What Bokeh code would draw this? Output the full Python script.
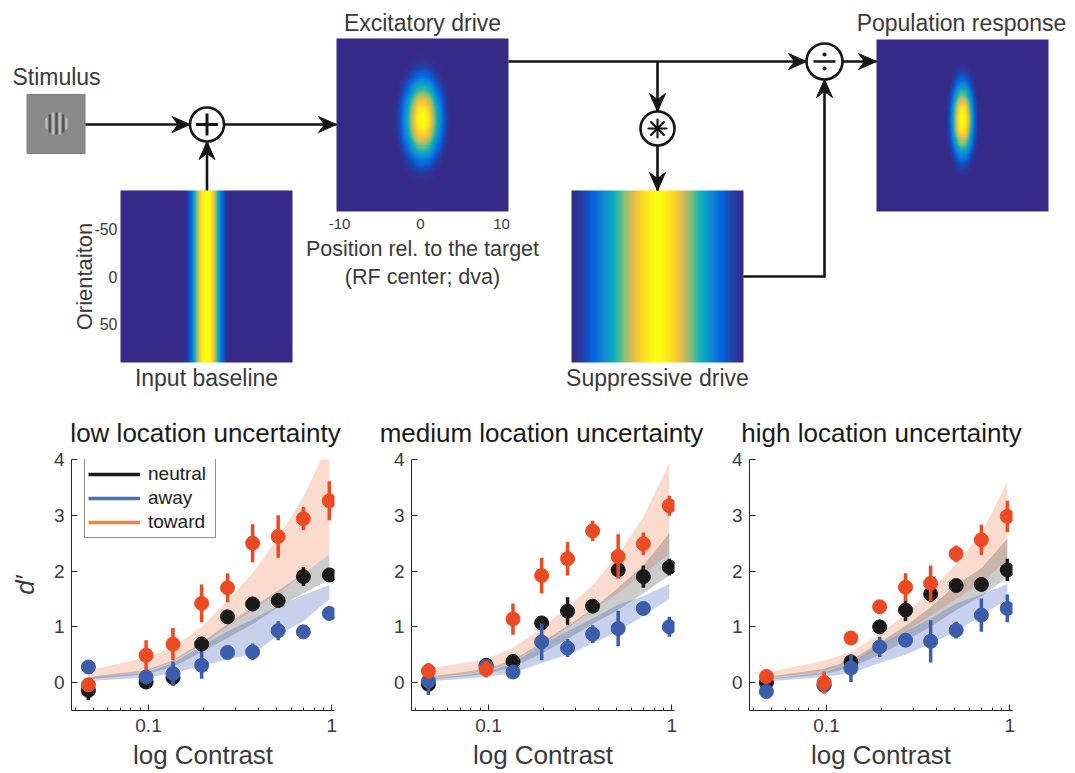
import numpy as np
from bokeh.plotting import figure
from bokeh.layouts import column, row
from bokeh.models import (Range1d, LinearColorMapper, FixedTicker,
                          CustomJSTickFormatter, Legend, LegendItem)
from bokeh.core.properties import value
from bokeh.embed import file_html
from bokeh.resources import INLINE

# ---------------------------------------------------------------- data
contrast = [0.047, 0.097, 0.136, 0.195, 0.27, 0.37, 0.51, 0.70, 0.97]

# low location uncertainty
low_neutral = [-0.14, 0.01, 0.09, 0.69, 1.18, 1.41, 1.47, 1.90, 1.93]
low_neutral_err = [0.17, 0.12, 0.08, 0.13, 0.05, 0.13, 0.13, 0.17, 0.10]
low_away = [0.28, 0.10, 0.16, 0.31, 0.54, 0.55, 0.93, 0.91, 1.24]
low_away_err = [0.03, 0.05, 0.22, 0.24, 0.05, 0.15, 0.17, 0.05, 0.12]
low_toward = [-0.04, 0.49, 0.69, 1.42, 1.70, 2.50, 2.62, 2.94, 3.26]
low_toward_err = [0.05, 0.27, 0.29, 0.34, 0.26, 0.34, 0.38, 0.21, 0.35]
low_toward_lo = [0.07, 0.20, 0.38, 0.68, 1.00, 1.30, 1.60, 1.95, 2.30]
low_toward_hi = [0.22, 0.45, 0.63, 1.00, 1.47, 1.96, 2.60, 3.33, 4.32]
low_neutral_lo = [0.06, 0.15, 0.28, 0.55, 0.80, 1.05, 1.35, 1.60, 1.85]
low_neutral_hi = [0.10, 0.22, 0.40, 0.72, 1.05, 1.35, 1.65, 1.95, 2.30]
low_away_lo = [0.03, 0.09, 0.17, 0.30, 0.42, 0.51, 0.85, 1.10, 1.50]
low_away_hi = [0.08, 0.18, 0.35, 0.65, 0.92, 1.13, 1.38, 1.57, 1.75]

# medium location uncertainty
med_neutral = [-0.03, 0.31, 0.38, 1.07, 1.28, 1.37, 2.02, 1.90, 2.07]
med_neutral_err = [0.05, 0.12, 0.05, 0.07, 0.25, 0.10, 0.05, 0.20, 0.15]
med_away = [0.03, 0.29, 0.19, 0.73, 0.62, 0.87, 0.97, 1.33, 1.00]
med_away_err = [0.25, 0.07, 0.10, 0.33, 0.16, 0.16, 0.32, 0.03, 0.18]
med_toward = [0.21, 0.24, 1.14, 1.92, 2.22, 2.72, 2.26, 2.49, 3.17]
med_toward_err = [0.14, 0.15, 0.28, 0.32, 0.30, 0.18, 0.40, 0.20, 0.18]
med_toward_lo = [0.08, 0.20, 0.38, 0.68, 0.98, 1.30, 1.60, 1.95, 2.30]
med_toward_hi = [0.25, 0.42, 0.62, 0.98, 1.35, 1.74, 2.30, 2.97, 3.94]
med_neutral_lo = [0.05, 0.15, 0.28, 0.52, 0.78, 1.05, 1.30, 1.60, 1.92]
med_neutral_hi = [0.10, 0.25, 0.40, 0.72, 1.02, 1.32, 1.70, 2.10, 2.68]
med_away_lo = [0.02, 0.10, 0.17, 0.35, 0.50, 0.70, 0.92, 1.20, 1.50]
med_away_hi = [0.06, 0.18, 0.35, 0.68, 0.92, 1.15, 1.40, 1.55, 1.77]

# high location uncertainty
high_neutral = [0.00, -0.03, 0.37, 1.00, 1.30, 1.59, 1.74, 1.76, 2.02]
high_neutral_err = [0.03, 0.05, 0.10, 0.10, 0.20, 0.15, 0.10, 0.10, 0.20]
high_away = [-0.16, -0.05, 0.26, 0.64, 0.76, 0.74, 0.94, 1.21, 1.33]
high_away_err = [0.03, 0.05, 0.25, 0.18, 0.10, 0.38, 0.15, 0.30, 0.25]
high_toward = [0.11, 0.00, 0.80, 1.36, 1.71, 1.78, 2.31, 2.56, 2.98]
high_toward_err = [0.05, 0.20, 0.12, 0.07, 0.25, 0.32, 0.15, 0.27, 0.28]
high_toward_lo = [0.08, 0.20, 0.35, 0.62, 0.92, 1.20, 1.50, 1.80, 2.20]
high_toward_hi = [0.18, 0.39, 0.55, 0.87, 1.23, 1.65, 2.13, 2.67, 3.60]
high_neutral_lo = [0.05, 0.15, 0.27, 0.50, 0.75, 1.00, 1.30, 1.55, 1.89]
high_neutral_hi = [0.10, 0.25, 0.40, 0.72, 1.02, 1.35, 1.75, 2.05, 2.58]
high_away_lo = [0.02, 0.10, 0.17, 0.35, 0.50, 0.70, 0.92, 1.20, 1.50]
high_away_hi = [0.06, 0.18, 0.35, 0.68, 0.92, 1.15, 1.42, 1.58, 1.77]

panel_titles = ["low location uncertainty", "medium location uncertainty",
                "high location uncertainty"]
legend_labels = ["neutral", "away", "toward"]
x_ticks = [0.1, 1]
y_ticks = [0, 1, 2, 3, 4]

# model illustration (heatmaps): position (dva) and orientation (deg) grids
position = np.linspace(-10, 10, 161)
orientation = np.linspace(90, -90, 161)      # row 0 = bottom of image
stim_orientation = -6.0
excit_shape = (1.85, 36.0, 2.6)              # scale_pos, scale_ori, exponent
pop_shape = (1.12, 33.0, 2.6)
suppr_sigma = 4.0
baseline_shape = (1.45, 2.8)                 # scale, exponent
pos_ticks = [-10, 0, 10]
ori_ticks = [-50, 0, 50]

# ---------------------------------------------------------------- styles
FONT = "Liberation Sans"
TXT = "#3a3a3a"
C_NEU, C_AWAY, C_TOW = "#1a1a1a", "#3b5dab", "#ec4a22"
C_AWAY_LEG, C_TOW_LEG = "#4472c4", "#f5823a"

parula_stops = ["#352A87", "#0363E1", "#1485D4", "#06A7C6", "#38B99E",
                "#92BF73", "#D9BA56", "#FCCE2E", "#F9FB0E"]


def make_palette(stops, n=256):
    rgb = np.array([[int(s[i:i + 2], 16) for i in (1, 3, 5)] for s in stops], float)
    t = np.linspace(0, 1, len(stops))
    out = []
    for v in np.linspace(0, 1, n):
        c = [int(round(np.interp(v, t, rgb[:, k]))) for k in range(3)]
        out.append("#%02x%02x%02x" % tuple(c))
    return out


parula = make_palette(parula_stops)
grey_pal = make_palette(["#3c3c3c", "#8a8a8a", "#d8d8d8"])


def scaled(a):
    # imagesc-like autoscaling
    return (a - a.min()) / (a.max() - a.min())


def blob(P, O, shape):
    ax, ay, pw = shape
    r2 = (P / ax) ** 2 + ((O - stim_orientation) / ay) ** 2
    return np.exp(-r2 ** (pw / 2))


# ---------------------------------------------------------------- top diagram
HT = 450
top = figure(width=1075, height=HT, x_range=Range1d(0, 1075), y_range=Range1d(0, HT),
             x_axis_type=None, y_axis_type=None, output_backend="svg",
             toolbar_location=None, min_border=0)
top.outline_line_color = None
top.grid.visible = False


def Y(v):
    return HT - v


mapper = LinearColorMapper(palette=parula, low=0, high=1.0)
P, O = np.meshgrid(position, orientation)

img_baseline = scaled(np.exp(-(np.abs(P) / baseline_shape[0]) ** baseline_shape[1]) + 0 * O)
img_excit = scaled(blob(P, O, excit_shape))
img_suppr = scaled(np.exp(-P ** 2 / (2 * suppr_sigma ** 2)) + 0 * O)
img_pop = scaled(blob(P, O, pop_shape))

boxes = {"baseline": (120, 190, 172, 172), "excit": (336, 38, 172, 173),
         "suppr": (571, 190, 172, 172), "pop": (876, 39, 172, 172)}
imgs = {"baseline": img_baseline, "excit": img_excit, "suppr": img_suppr, "pop": img_pop}
for k, (l, t, w, h) in boxes.items():
    top.image(image=[imgs[k]], x=l, y=Y(t + h), dw=w, dh=h, color_mapper=mapper)

# stimulus
top.quad(left=26.5, right=84.5, top=Y(94), bottom=Y(153), fill_color="#8a8a8a",
         line_color="#7c7c7c", line_width=1)
gx = np.linspace(-12, 12, 49)
GX, GY = np.meshgrid(gx, gx)
inside = (GX ** 2 + GY ** 2) <= 11.5 ** 2
gabor = np.where(inside, 0.5 - 0.42 * np.cos(2 * np.pi * GX / 6.7), 0.5)
top.image(image=[gabor], x=56 - 12, y=Y(123 + 12), dw=24, dh=24,
          color_mapper=LinearColorMapper(palette=grey_pal, low=0, high=1))

# connecting lines
LW = 2.6
LC = "#151515"
PLUS = (206.5, 124, 17)
CONV = (657, 128, 17)
DIV = (824, 61, 18)
paths = [
    [(85, 124), (PLUS[0] - PLUS[2], 124)],
    [(PLUS[0] + PLUS[2], 124), (336, 124)],
    [(PLUS[0], 190), (PLUS[0], PLUS[1] + PLUS[2])],
    [(508, 61), (DIV[0] - DIV[2], 61)],
    [(CONV[0], 61), (CONV[0], CONV[1] - CONV[2])],
    [(CONV[0], CONV[1] + CONV[2]), (CONV[0], 190)],
    [(743, 276), (DIV[0], 276), (DIV[0], DIV[1] + DIV[2])],
    [(DIV[0] + DIV[2], 61), (876, 61)],
]
top.multi_line(xs=[[p[0] for p in path] for path in paths],
               ys=[[Y(p[1]) for p in path] for path in paths],
               line_color=LC, line_width=LW, line_join="miter")

# operator circles
ops = [PLUS, CONV, DIV]
top.circle(x=[o[0] for o in ops], y=[Y(o[1]) for o in ops], radius=[o[2] for o in ops],
           fill_color="white", line_color=LC, line_width=LW)
# plus
top.segment(x0=[PLUS[0] - 11, PLUS[0]], y0=[Y(124), Y(124 - 11)],
            x1=[PLUS[0] + 11, PLUS[0]], y1=[Y(124), Y(124 + 11)],
            line_color=LC, line_width=3)
# divide
top.segment(x0=[DIV[0] - 11], y0=[Y(61)], x1=[DIV[0] + 11], y1=[Y(61)],
            line_color=LC, line_width=2.6)
top.circle(x=[DIV[0], DIV[0]], y=[Y(54), Y(68)], radius=2.1, fill_color=LC, line_color=None)
# asterisk
ang = np.deg2rad(np.arange(0, 360, 45) + 90)
top.segment(x0=[CONV[0]] * len(ang), y0=[Y(CONV[1])] * len(ang),
            x1=list(CONV[0] + 9 * np.cos(ang)), y1=list(Y(CONV[1]) + 9 * np.sin(ang)),
            line_color=LC, line_width=2.2, line_cap="round")

# arrow heads (stealth)
heads_xs, heads_ys = [], []
for path in paths:
    (x0, y0), (x1, y1) = path[-2], path[-1]
    d = np.array([x1 - x0, Y(y1) - Y(y0)], float)
    d /= np.hypot(*d)
    n = np.array([-d[1], d[0]])
    tip = np.array([x1, Y(y1)], float)
    L, W, notch = 18, 8, 6
    pts = [tip, tip - L * d + W * n, tip - (L - notch) * d, tip - L * d - W * n]
    heads_xs.append([p_[0] for p_ in pts])
    heads_ys.append([p_[1] for p_ in pts])
top.patches(xs=heads_xs, ys=heads_ys, fill_color=LC, line_color=LC, line_width=1)


# texts
def txt(x, y, s, size, angle=0, align="center", color=TXT):
    top.text(x=[x], y=[Y(y)], text=[s], text_font=value(FONT), text_font_size=size,
             text_align=align, text_baseline="middle", text_color=color, angle=angle)


txt(56, 76, "Stimulus", "23px")
txt(422, 22, "Excitatory drive", "23px")
txt(961, 22, "Population response", "23px")
txt(206, 377, "Input baseline", "23px")
txt(657, 377, "Suppressive drive", "23px")
txt(422, 248, "Position rel. to the target", "21.5px")
txt(422, 276, "(RF center; dva)", "21.5px")
txt(84, 276, "Orientaiton", "22px", angle=np.pi / 2)
l, t, w, h = boxes["excit"]
for tk in pos_ticks:
    txt(l + 3 + (tk + 10) / 20 * (w - 10), 223, str(tk), "15px")
l, t, w, h = boxes["baseline"]
for tk in ori_ticks:
    txt(117, t + (tk + 90) / 180 * h, str(tk), "16px", align="right")

# panel titles (centred over each panel frame)
for cx, ttl in zip([205, 541, 881], panel_titles):
    txt(cx, 432, ttl, "26px", color="#1a1a1a")

# ---------------------------------------------------------------- panels
minor = [m * 10.0 ** e for e in (-2, -1) for m in range(2, 10)]
minor = [m for m in minor if 0.038 <= m <= 1.035]


def make_panel(series, bands, width, legend=False, ylabel=False):
    p = figure(width=width, height=773 - HT, x_axis_type="log",
               x_range=Range1d(0.038, 1.035), y_range=Range1d(-0.5, 4),
               output_backend="svg", toolbar_location=None,
               min_border_left=71, min_border_right=width - 71 - 263,
               min_border_top=459 - HT, min_border_bottom=63)
    p.outline_line_color = None
    p.grid.visible = False

    xs = contrast + contrast[::-1]
    band_cols = [("#f3875c", 0.3), ("#555555", 0.3), ("#4a66c0", 0.3)]
    for (lo, hi), (col, al) in zip(bands, band_cols):
        p.patch(xs, hi + lo[::-1], fill_color=col, fill_alpha=al, line_color=None)

    for (vals, errs), col in zip(series, [C_NEU, C_AWAY, C_TOW]):
        p.segment(x0=contrast, x1=contrast,
                  y0=[v - e for v, e in zip(vals, errs)],
                  y1=[v + e for v, e in zip(vals, errs)],
                  line_color=col, line_width=3.5)
        p.scatter(contrast, vals, size=14, fill_color=col, line_color=col)

    p.xaxis.ticker = FixedTicker(ticks=x_ticks, minor_ticks=minor)
    p.xaxis.formatter = CustomJSTickFormatter(code="return tick.toString();")
    p.yaxis.ticker = FixedTicker(ticks=y_ticks, minor_ticks=[])
    for ax in p.axis:
        ax.axis_line_color = "#262626"
        ax.major_tick_line_color = "#262626"
        ax.minor_tick_line_color = "#262626"
        ax.major_tick_in = 6
        ax.major_tick_out = 0
        ax.minor_tick_in = 3
        ax.minor_tick_out = 0
        ax.major_label_text_font = FONT
        ax.major_label_text_font_size = "19px"
        ax.major_label_text_color = TXT
        ax.axis_label_text_font = FONT
        ax.axis_label_text_color = TXT
    p.xaxis.major_label_standoff = 8
    p.yaxis.major_label_standoff = 7
    p.xaxis.axis_label = "log Contrast"
    p.xaxis.axis_label_text_font_size = "26px"
    p.xaxis.axis_label_text_font_style = "normal"
    p.xaxis.axis_label_standoff = 5
    if ylabel:
        p.yaxis.axis_label = "d\u2032"
        p.yaxis.axis_label_text_font_size = "26px"
        p.yaxis.axis_label_text_font_style = "italic"
        p.yaxis.axis_label_standoff = 11

    if legend:
        items = []
        for lab, col in zip(legend_labels, [C_NEU, C_AWAY_LEG, C_TOW_LEG]):
            r = p.line([np.nan], [np.nan], line_color=col, line_width=3.5)
            items.append(LegendItem(label=lab, renderers=[r]))
        lg = Legend(items=items, location=(13, 172), padding=3, spacing=0,
                    label_height=24, glyph_height=24, glyph_width=52,
                    label_standoff=8, label_width=64, margin=0,
                    label_text_font=FONT, label_text_font_size="19px",
                    label_text_color="#1a1a1a",
                    border_line_color="#262626", border_line_width=1,
                    background_fill_alpha=1)
        p.add_layout(lg)
    return p


p1 = make_panel([(low_neutral, low_neutral_err), (low_away, low_away_err),
                 (low_toward, low_toward_err)],
                [(low_toward_lo, low_toward_hi), (low_neutral_lo, low_neutral_hi),
                 (low_away_lo, low_away_hi)], 340, legend=True, ylabel=True)
p2 = make_panel([(med_neutral, med_neutral_err), (med_away, med_away_err),
                 (med_toward, med_toward_err)],
                [(med_toward_lo, med_toward_hi), (med_neutral_lo, med_neutral_hi),
                 (med_away_lo, med_away_hi)], 338)
p3 = make_panel([(high_neutral, high_neutral_err), (high_away, high_away_err),
                 (high_toward, high_toward_err)],
                [(high_toward_lo, high_toward_hi), (high_neutral_lo, high_neutral_hi),
                 (high_away_lo, high_away_hi)], 340)

layout = column(top, row(p1, p2, p3, spacing=0), spacing=0)
open("out.html", "w").write(file_html(layout, INLINE))
